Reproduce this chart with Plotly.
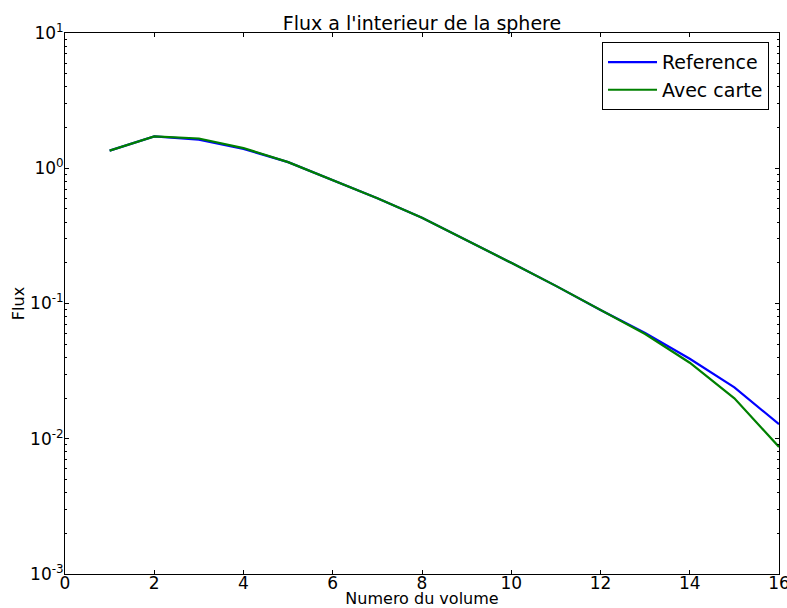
import plotly.graph_objects as go

volumes = list(range(1, 17))
reference = [1.35, 1.72, 1.63, 1.39, 1.11, 0.82, 0.60, 0.43, 0.295, 0.20, 0.135, 0.0895, 0.0605, 0.039, 0.024, 0.0128]
avec_carte = [1.35, 1.72, 1.66, 1.41, 1.11, 0.82, 0.60, 0.43, 0.295, 0.20, 0.135, 0.0890, 0.0595, 0.0365, 0.0199, 0.0087]

xticks = [0, 2, 4, 6, 8, 10, 12, 14, 16]
ytick_vals = [1e-3, 1e-2, 1e-1, 1e0, 1e1]
ytick_text = ["10<sup>-3</sup>", "10<sup>-2</sup>", "10<sup>-1</sup>", "10<sup>0</sup>", "10<sup>1</sup>"]

minor_vals = [m * 10.0 ** e for e in range(-3, 1) for m in range(2, 10)]

font = "DejaVu Sans"
fig = go.Figure()
fig.add_trace(go.Scatter(x=volumes, y=reference, mode="lines", name="Reference",
                         line=dict(color="#0000ff", width=2.2)))
fig.add_trace(go.Scatter(x=volumes, y=avec_carte, mode="lines", name="Avec carte",
                         line=dict(color="#008000", width=2.2)))

fig.update_layout(
    width=787, height=608,
    margin=dict(l=65, r=8, t=33, b=34, autoexpand=False),
    paper_bgcolor="white", plot_bgcolor="white",
    font=dict(family=font, color="black", size=16),
    title=dict(text="Flux a l'interieur de la sphere", x=(282 + 562) / 2 / 787, xanchor="center",
               y=1 - 23 / 608, yanchor="middle", font=dict(size=19), automargin=False),
    showlegend=True,
    legend=dict(x=0.986, y=0.983, xanchor="right", yanchor="top",
                bordercolor="black", borderwidth=1, bgcolor="white",
                font=dict(size=19), itemwidth=49, tracegroupgap=0),
)
fig.update_xaxes(
    range=[0, 16], tickvals=xticks, ticktext=[str(t) for t in xticks],
    showgrid=False, zeroline=False, showline=True, linecolor="black", linewidth=1,
    mirror="allticks", ticks="inside", ticklen=4, tickcolor="black",
    title=dict(text="Numero du volume", font=dict(size=16), standoff=15),
    tickfont=dict(size=17), automargin=False, ticklabeloverflow="allow",
    ticklabelstandoff=-6,
)
fig.update_yaxes(
    type="log", range=[-3, 1], tickvals=ytick_vals, ticktext=ytick_text,
    showgrid=False, zeroline=False, showline=True, linecolor="black", linewidth=1,
    mirror="allticks", ticks="inside", ticklen=4, tickcolor="black",
    minor=dict(tickvals=minor_vals, ticks="inside", ticklen=2, tickcolor="black", showgrid=False),
    title=dict(text="Flux", font=dict(size=16), standoff=1),
    tickfont=dict(size=17), automargin=False, ticklabeloverflow="allow",
    ticklabelstandoff=-3,
)

fig.write_html("out.html", config={"displayModeBar": False},
               post_script="document.body.style.margin='0';document.body.style.overflow='hidden';")
